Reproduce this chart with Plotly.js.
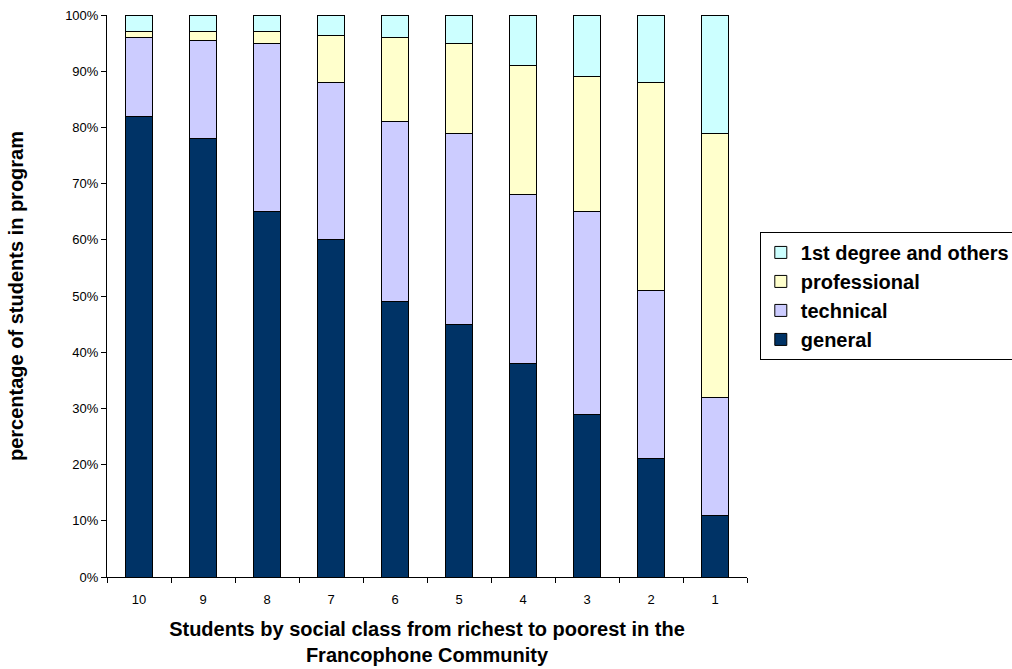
<!DOCTYPE html>
<html>
<head>
<meta charset="utf-8">
<script src="https://cdn.plot.ly/plotly-3.0.1.min.js"></script>
<style>html,body{margin:0;padding:0;background:#fff;}#chart{width:1012px;height:669px;}</style>
</head>
<body>
<div id="chart"></div>
<script>
const categories = ["10","9","8","7","6","5","4","3","2","1"];
const general      = [82, 78, 65, 60, 49, 45, 38, 29, 21, 11];
const technical    = [14, 17.5, 30, 28, 32, 34, 30, 36, 30, 21];
const professional = [1, 1.5, 2, 8.3, 15, 16, 23, 24, 37, 47];
const firstDegree  = [3, 3, 3, 3.7, 4, 5, 9, 11, 12, 21];
const seriesNames  = ["general", "technical", "professional", "1st degree and others"];
const seriesColors = ["#003366", "#CCCCFF", "#FFFFCC", "#CCFFFF"];
const yTickVals = [0,10,20,30,40,50,60,70,80,90,100];
const yTickText = ["0%","10%","20%","30%","40%","50%","60%","70%","80%","90%","100%"];

const allSeries = [general, technical, professional, firstDegree];
const traces = allSeries.map((vals, i) => ({
  type: "bar",
  name: seriesNames[i],
  x: categories,
  y: vals,
  marker: {color: seriesColors[i], line: {color: "#000000", width: 1}},
  hoverinfo: "skip"
}));

const font = "Liberation Sans, Arial, sans-serif";
const layout = {
  width: 1012, height: 669,
  margin: {l: 107, r: 265, t: 15, b: 92, pad: 0, autoexpand: false},
  barmode: "stack",
  bargap: 0.59,
  paper_bgcolor: "#ffffff",
  plot_bgcolor: "#ffffff",
  font: {family: font, color: "#000000", size: 13},
  showlegend: true,
  legend: {
    x: 1.02, xanchor: "left", y: 0.614, yanchor: "top",
    traceorder: "reversed",
    bordercolor: "#000000", borderwidth: 1,
    font: {family: font, size: 20, color: "#000000", weight: "bold"},
    itemwidth: 30
  },
  xaxis: {
    type: "category",
    showline: true, linecolor: "#000000", linewidth: 1,
    ticks: "outside", ticklen: 5, tickcolor: "#000000",
    tickson: "boundaries",
    ticklabelstandoff: 10,
    showgrid: false, zeroline: false,
    tickfont: {family: font, size: 13},
    title: {text: "<b>Students by social class from richest to poorest in the<br>Francophone Community</b>", font: {family: font, size: 20}, standoff: 16}
  },
  yaxis: {
    range: [0, 100],
    tickvals: yTickVals, ticktext: yTickText,
    showline: true, linecolor: "#000000", linewidth: 1,
    ticks: "outside", ticklen: 5, tickcolor: "#000000",
    showgrid: false, zeroline: false,
    tickfont: {family: font, size: 13},
    title: {text: "<b>percentage of students in program</b>", font: {family: font, size: 20}, standoff: 36}
  }
};

Plotly.newPlot("chart", traces, layout, {displayModeBar: false, staticPlot: true});
</script>
</body>
</html>
